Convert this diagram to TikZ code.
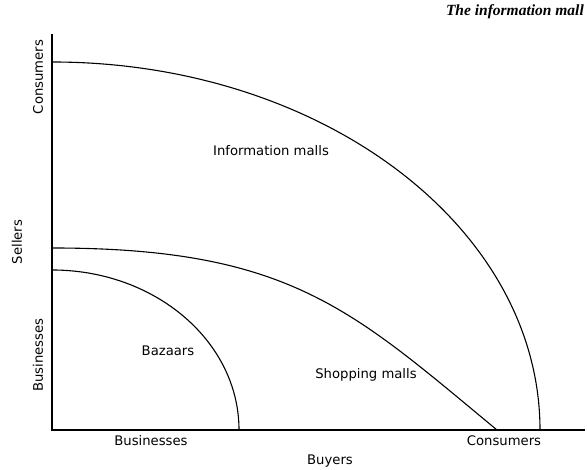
\documentclass[tikz,border=0pt]{standalone}
\usepackage{fontspec}
\setmainfont{DejaVu Sans}
\newfontfamily\titlefont{Liberation Serif}
\begin{document}
\begin{tikzpicture}[x=1pt,y=1pt,
  axisline/.style={line width=2.6pt, line cap=rect},
  frontier/.style={line width=1.1pt},
  lbl/.style={font=\fontsize{13.2}{15}\selectfont, inner sep=0pt}]
\useasboundingbox (0,0) rectangle (587,470);

% axes
\coordinate (origin) at (52,40);
\coordinate (ytop) at (52,435);
\coordinate (xend) at (584,40);
\draw[axisline] (ytop) -- (origin) -- (xend);

% frontiers
\draw[frontier] (52,408) arc[start angle=90, end angle=0, x radius=488pt, y radius=368pt];
\draw[frontier] (52,222) .. controls (290,222) and (352,160) .. (497,40);
\draw[frontier] (52,200) arc[start angle=90, end angle=0, x radius=187pt, y radius=160pt];

% region labels
\node[lbl] (info) at (271,319) {Information malls};
\node[lbl] (shop) at (366,95) {Shopping malls};
\node[lbl] (baz) at (168,119) {Bazaars};

% axis labels
\node[lbl] (xbus) at (151,29) {Businesses};
\node[lbl] (xcon) at (504,29) {Consumers};
\node[lbl] (buyers) at (330,9) {Buyers};
\node[lbl, rotate=90] (ybus) at (38,115) {Businesses};
\node[lbl, rotate=90] (ycon) at (38,393) {Consumers};
\node[lbl, rotate=90] (sellers) at (17,228) {Sellers};

% running head
\node[anchor=east, inner sep=0pt, font=\titlefont\bfseries\itshape\fontsize{15.5}{17}\selectfont] (head) at (584,458) {The information mall};
\end{tikzpicture}
\end{document}
